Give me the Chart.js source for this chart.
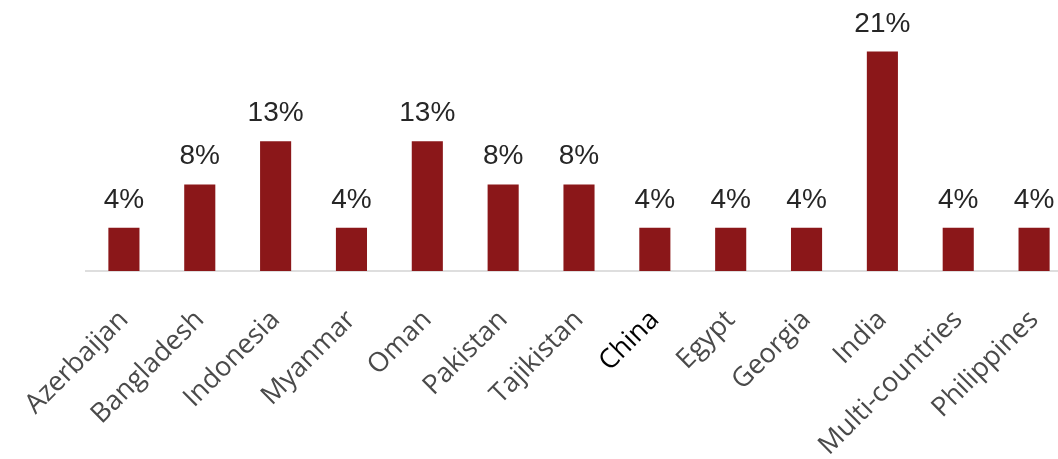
<!DOCTYPE html>
<html>
<head>
<meta charset="utf-8">
<script src="https://cdn.jsdelivr.net/npm/chart.js@4"></script>
<style>
  html, body { margin: 0; padding: 0; background: #fff; }
  #wrap { width: 1058px; height: 459px; overflow: hidden; }
</style>
</head>
<body>
<div id="wrap"><canvas id="myChart" width="1072" height="459"></canvas></div>
<script>
    const countries = [
        'Azerbaijan', 'Bangladesh', 'Indonesia', 'Myanmar', 'Oman', 'Pakistan',
        'Tajikistan', 'China', 'Egypt', 'Georgia', 'India', 'Multi-countries', 'Philippines'
    ];
    // share of projects, %
    const shares = [4.2, 8.4, 12.6, 4.2, 12.6, 8.4, 8.4, 4.2, 4.2, 4.2, 21.3, 4.2, 4.2];

    const barLabels = {
        id: 'barLabels',
        afterDatasetsDraw(chart) {
            const ctx = chart.ctx;
            const meta = chart.getDatasetMeta(0);
            ctx.save();
            ctx.font = '28px "Liberation Sans", Arial, sans-serif';
            ctx.fillStyle = '#262626';
            ctx.textAlign = 'center';
            ctx.textBaseline = 'alphabetic';
            meta.data.forEach((bar, i) => {
                ctx.fillText(Math.round(shares[i]) + '%', bar.x, bar.y - 20);
            });
            ctx.restore();
        }
    };

    const data = {
        labels: countries,
        datasets: [{
            backgroundColor: '#8B1719',
            borderWidth: 0,
            categoryPercentage: 1,
            barPercentage: 0.41,
            data: shares,
        }]
    };

    const config = {
        type: 'bar',
        data: data,
        plugins: [barLabels],
        options: {
            responsive: false,
            animation: false,
            layout: {
                padding: { left: 86, right: 0, top: 0, bottom: 0 }
            },
            plugins: {
                legend: { display: false },
                tooltip: { enabled: false }
            },
            scales: {
                x: {
                    grid: { display: false },
                    border: { color: '#dedede', width: 2 },
                    ticks: {
                        minRotation: 45,
                        maxRotation: 45,
                        padding: 25,
                        color: (c) => c.tick && c.tick.label === 'China' ? '#000000' : '#4a4a4a',
                        font: { family: '"Open Sans", sans-serif', size: 27 }
                    },
                    afterFit: (scale) => {
                        scale.height = 188;
                        scale.paddingLeft = 0;
                        scale.paddingRight = 0;
                    }
                },
                y: {
                    display: false,
                    min: 0,
                    max: 26.3
                }
            }
        },
    };

    var myChart = new Chart(
        document.getElementById('myChart'),
        config
    );
</script>
</body>
</html>
